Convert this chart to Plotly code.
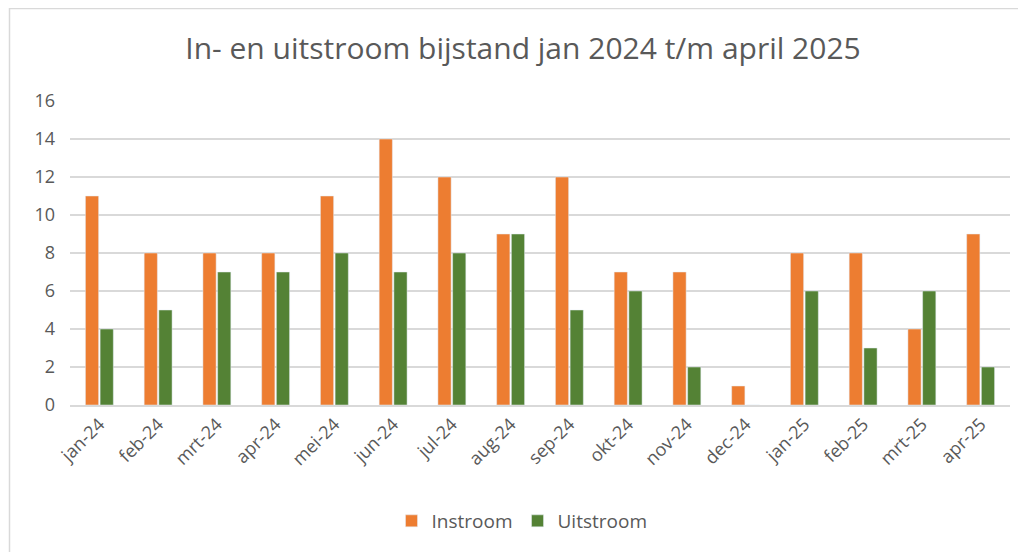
import plotly.graph_objects as go

months = ["jan-24", "feb-24", "mrt-24", "apr-24", "mei-24", "jun-24", "jul-24", "aug-24",
          "sep-24", "okt-24", "nov-24", "dec-24", "jan-25", "feb-25", "mrt-25", "apr-25"]
instroom = [11, 8, 8, 8, 11, 14, 12, 9, 12, 7, 7, 1, 8, 8, 4, 9]
uitstroom = [4, 5, 7, 7, 8, 7, 8, 9, 5, 6, 2, 0, 6, 3, 6, 2]

FONT = "Open Sans"
GREY = "#595959"

fig = go.Figure()
fig.add_trace(go.Bar(name="Instroom", x=months, y=instroom, marker_color="#ED7D31"))
fig.add_trace(go.Bar(name="Uitstroom", x=months, y=uitstroom, marker_color="#548235"))

# page body has an 8px margin, so figure coords = page coords - 8
L, R, T, B = 62, 16, 93, 147
W, H = 1018, 544
pw, ph = W - L - R, H - T - B

fig.update_layout(
    width=W, height=H,
    margin=dict(l=L, r=R, t=T, b=B),
    paper_bgcolor="white", plot_bgcolor="white",
    barmode="group", bargap=0.5, bargroupgap=0.1,
    font=dict(family=FONT, color=GREY, size=18),
    title=dict(text="In- en uitstroom bijstand jan 2024 t/m april 2025",
               x=(515) / W, xanchor="center", y=1 - 40 / H, yanchor="middle",
               font=dict(family=FONT, size=30, color=GREY)),
    xaxis=dict(tickangle=-45, showgrid=False, showline=True, linecolor="#D9D9D9",
               linewidth=1.5, tickfont=dict(size=18, color=GREY), ticks=""),
    yaxis=dict(range=[0, 16], dtick=2, showgrid=True, gridcolor="#D9D9D9", gridwidth=1.5,
               zeroline=False, ticks="", tickfont=dict(size=18, color=GREY),
               ticklabelstandoff=14),
    legend=dict(orientation="h", x=(514 - L) / pw, xanchor="center", y=(H - B - 513) / ph,
                yanchor="middle", font=dict(size=19, color=GREY), itemwidth=30),
    shapes=[
        dict(type="line", xref="paper", yref="paper",
             x0=(1 - L) / pw, x1=(W + 5 - L) / pw, y0=(H - B - 0.5) / ph, y1=(H - B - 0.5) / ph,
             line=dict(color="#D9D9D9", width=1.5)),
        dict(type="line", xref="paper", yref="paper",
             x0=(1.5 - L) / pw, x1=(1.5 - L) / pw, y0=(H - B) / ph, y1=(H - B - 560) / ph,
             line=dict(color="#D9D9D9", width=1.5)),
    ],
)

fig.write_html("out.html")
